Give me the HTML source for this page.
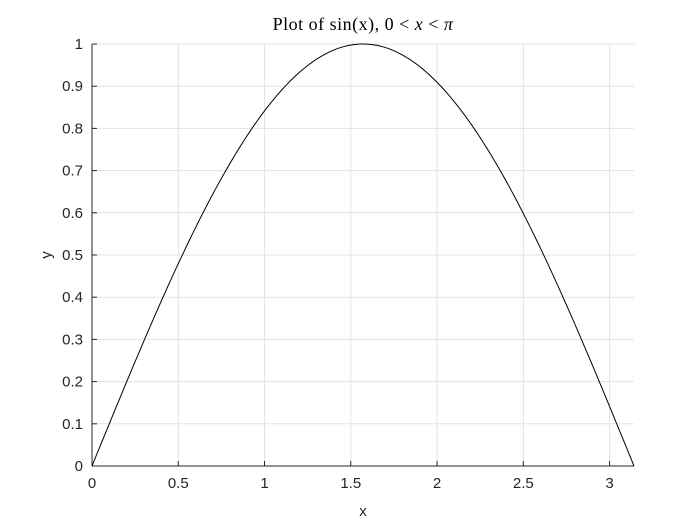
<!DOCTYPE html>
<html><head><meta charset="utf-8"><style>
body{margin:0;background:#fff;}
svg{display:block;font-family:"Liberation Sans",Arial,sans-serif;}
</style></head><body>
<svg id="chart" width="700" height="525" viewBox="0 0 700 525">
<rect width="700" height="525" fill="#fff"/>
<g id="grid"></g><g id="axes"></g><g id="series"></g>
<text x="363" y="30" text-anchor="middle" font-family="'Liberation Serif',serif" font-size="18" letter-spacing="0.5" fill="#000">Plot of sin(x), 0 &lt; <tspan font-style="italic">x</tspan> &lt; <tspan font-style="italic">π</tspan></text>
<text x="363" y="516" text-anchor="middle" font-size="15" fill="#262626">x</text>
<text x="51" y="255" text-anchor="middle" font-size="15" fill="#262626" transform="rotate(-90 51 255)">y</text>
</svg>
<script>
const xTicks=[0,0.5,1,1.5,2,2.5,3];
const xTickLabels=["0","0.5","1","1.5","2","2.5","3"];
const yTicks=[0,0.1,0.2,0.3,0.4,0.5,0.6,0.7,0.8,0.9,1];
const yTickLabels=["0","0.1","0.2","0.3","0.4","0.5","0.6","0.7","0.8","0.9","1"];
const xDomain=[0,Math.PI];
const yDomain=[0,1];
const sampleCount=200;
const L=92,R=634,T=44,B=466;
const sx=v=>L+(v-xDomain[0])/(xDomain[1]-xDomain[0])*(R-L);
const sy=v=>B-(v-yDomain[0])/(yDomain[1]-yDomain[0])*(B-T);
const NS="http://www.w3.org/2000/svg";
function mk(t,a,p){const e=document.createElementNS(NS,t);for(const k in a)e.setAttribute(k,a[k]);p.appendChild(e);return e;}
const grid=document.getElementById('grid'),axes=document.getElementById('axes'),ser=document.getElementById('series');
xTicks.forEach((v,i)=>{
 const g=mk('line',{x1:sx(v),x2:sx(v),y1:T,y2:B,stroke:'#e3e3e3','stroke-width':1},grid);
 
 
 const t=mk('line',{x1:sx(v),x2:sx(v),y1:B,y2:B-5,stroke:'#262626','stroke-width':1},axes);
 
 
 const l=mk('text',{x:sx(v),y:B+22,'text-anchor':'middle','font-size':15,fill:'#262626'},axes);
 l.textContent=xTickLabels[i];
 
 
});
yTicks.forEach((v,i)=>{
 const g=mk('line',{x1:L,x2:R,y1:sy(v),y2:sy(v),stroke:'#e3e3e3','stroke-width':1},grid);
 
 
 const t=mk('line',{x1:L,x2:L+5,y1:sy(v),y2:sy(v),stroke:'#262626','stroke-width':1},axes);
 
 
 const l=mk('text',{x:L-9,y:sy(v)+5,'text-anchor':'end','font-size':15,fill:'#262626'},axes);
 l.textContent=yTickLabels[i];
 
 
});
const xa=mk('line',{x1:L,x2:R,y1:B,y2:B,stroke:'#262626','stroke-width':1},axes);


const ya=mk('line',{x1:L,x2:L,y1:T,y2:B,stroke:'#262626','stroke-width':1},axes);


let d='';
for(let i=0;i<=sampleCount;i++){const x=xDomain[0]+(xDomain[1]-xDomain[0])*i/sampleCount;d+=(i?'L':'M')+sx(x).toFixed(2)+' '+sy(Math.sin(x)).toFixed(2);}
const p=mk('path',{d:d,fill:'none',stroke:'#000','stroke-width':1},ser);


</script>
</body></html>
